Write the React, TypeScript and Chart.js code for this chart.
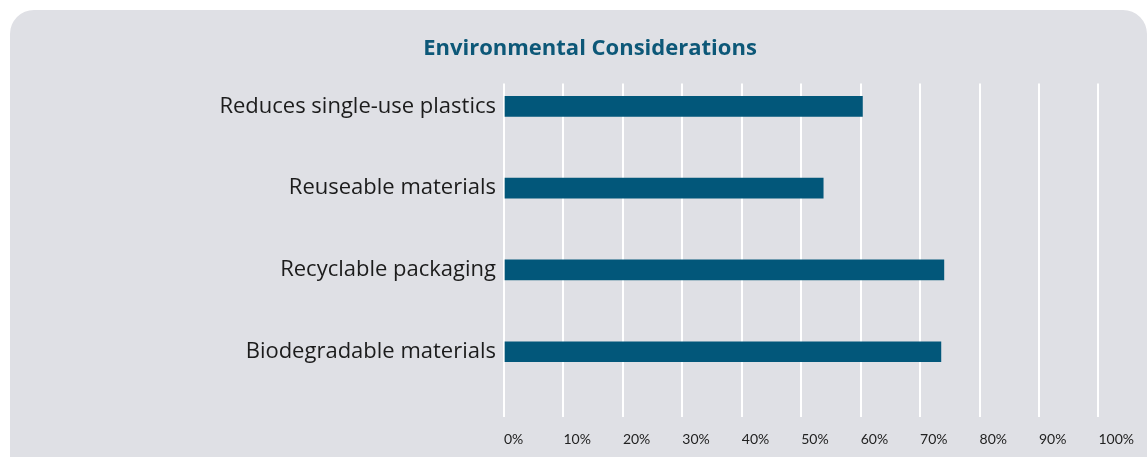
import { useEffect, useRef } from "react";
import { Chart, registerables } from "chart.js";

Chart.register(...registerables);

// Survey shares (%) for each packaging consideration
const categories = [
  "Reduces single-use plastics",
  "Reuseable materials",
  "Recyclable packaging",
  "Biodegradable materials",
];
const shares = [60.3, 53.7, 74.0, 73.5];
const percentTicks = [0, 10, 20, 30, 40, 50, 60, 70, 80, 90, 100];
const chartTitle = "Environmental Considerations";

const LABEL_FONT = "'Open Sans', Lato, sans-serif";
const TICK_FONT = "Lato, 'Open Sans', sans-serif";

export default function App() {
  const canvasRef = useRef<HTMLCanvasElement>(null);

  useEffect(() => {
    const canvas = canvasRef.current;
    if (!canvas) return;
    const chart = new Chart(canvas, {
      type: "bar",
      data: {
        datasets: [
          {
            data: categories.map((_, i) => ({ x: shares[i], y: i })),
            backgroundColor: "#02577a",
            borderWidth: 0,
            barThickness: 20,
          },
        ],
      },
      options: {
        indexAxis: "y",
        animation: false,
        responsive: false,
        layout: { padding: { left: 48, right: 16, top: 10, bottom: 8 } },
        plugins: {
          legend: { display: false },
          tooltip: { enabled: false },
          title: {
            display: true,
            text: chartTitle,
            color: "#0d5878",
            font: { family: LABEL_FONT, size: 22, weight: "bold" },
            padding: { top: 26, bottom: 21 },
          },
        },
        scales: {
          x: {
            type: "linear",
            min: 0,
            max: 100,
            afterBuildTicks: (scale: any) => {
              scale.ticks = percentTicks.map((v) => ({ value: v }));
            },
            ticks: {
              align: "start",
              autoSkip: false,
              maxRotation: 0,
              padding: 14,
              color: "#222222",
              font: { family: TICK_FONT, size: 14 },
              callback: (v: any) => `${v}%`,
            },
            grid: { color: "#ffffff", lineWidth: 2, drawTicks: false },
            border: { display: false },
          },
          y: {
            type: "linear",
            reverse: true,
            offset: false,
            min: -0.28,
            max: 3.8,
            afterBuildTicks: (scale: any) => {
              scale.ticks = categories.map((_, i) => ({ value: i }));
            },
            afterFit: (scale: any) => {
              scale.width = 456;
            },
            ticks: {
              padding: 8,
              color: "#1c1c1c",
              font: { family: LABEL_FONT, size: 22 },
              callback: (v: any) => categories[v as number] ?? "",
            },
            grid: { display: false, drawTicks: false, offset: false },
            border: { display: false },
          },
        },
      },
    } as any);
    return () => chart.destroy();
  }, []);

  return (
    <div
      style={{
        position: "fixed",
        left: 0,
        top: 0,
        width: 1148,
        height: 457,
        overflow: "hidden",
        background: "#ffffff",
      }}
    >
      <div
        style={{
          position: "absolute",
          left: 10,
          top: 10,
          width: 1137,
          height: 490,
          borderRadius: 24,
          background: "#dfe0e5",
        }}
      />
      <canvas
        ref={canvasRef}
        width={1148}
        height={470}
        style={{ position: "absolute", left: 0, top: 0 }}
      />
    </div>
  );
}
